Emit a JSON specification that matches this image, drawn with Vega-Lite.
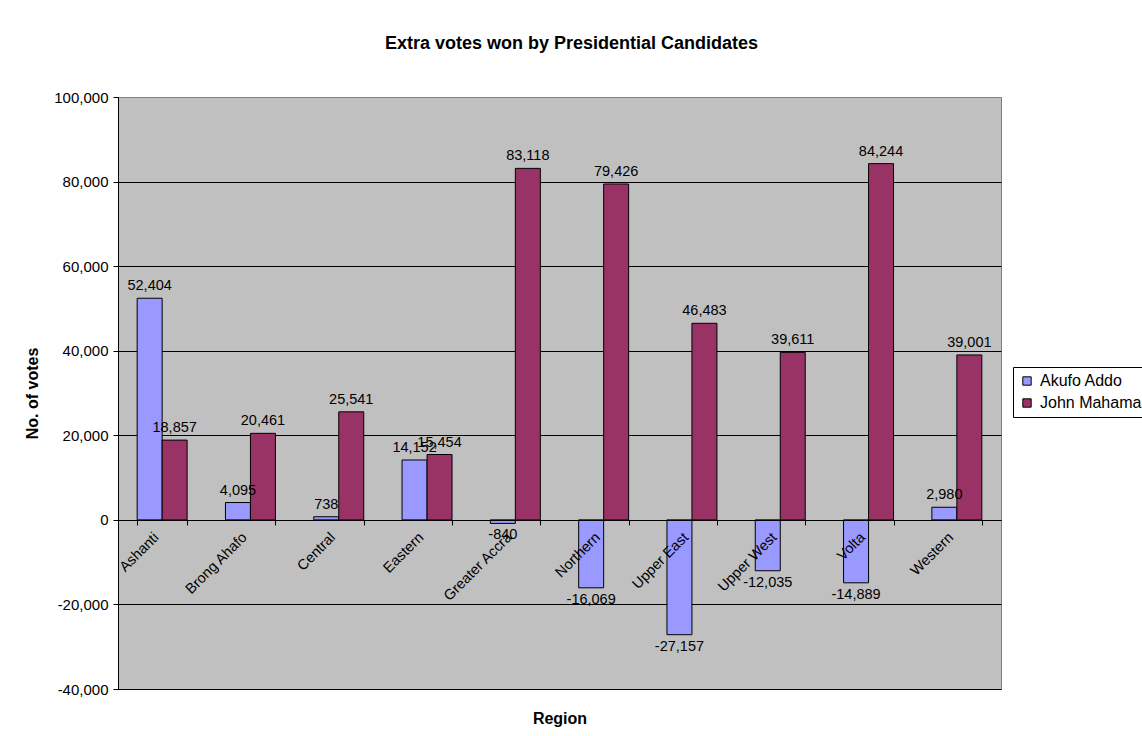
{
  "$schema": "https://vega.github.io/schema/vega-lite/v6.json",
  "autosize": "none",
  "width": 883,
  "height": 592,
  "padding": {"left": 118, "top": 97, "right": 141, "bottom": 47},
  "background": "white",
  "title": {
    "text": "Extra votes won by Presidential Candidates",
    "font": "Liberation Sans",
    "fontSize": 18,
    "fontWeight": "bold",
    "color": "black",
    "offset": 37,
    "dx": 12
  },
  "config": {
    "font": "Liberation Sans",
    "view": {"fill": "#C0C0C0", "stroke": "#808080", "strokeWidth": 1},
    "locale": {
      "number": {"decimal": ".", "thousands": ",", "grouping": [3], "currency": ["$", ""], "minus": "-"}
    }
  },
  "data": {
    "values": [
      {"Region": "Ashanti", "Candidate": "Akufo Addo", "Votes": 52404},
      {"Region": "Ashanti", "Candidate": "John Mahama", "Votes": 18857},
      {"Region": "Brong Ahafo", "Candidate": "Akufo Addo", "Votes": 4095},
      {"Region": "Brong Ahafo", "Candidate": "John Mahama", "Votes": 20461},
      {"Region": "Central", "Candidate": "Akufo Addo", "Votes": 738},
      {"Region": "Central", "Candidate": "John Mahama", "Votes": 25541},
      {"Region": "Eastern", "Candidate": "Akufo Addo", "Votes": 14152},
      {"Region": "Eastern", "Candidate": "John Mahama", "Votes": 15454},
      {"Region": "Greater Accra", "Candidate": "Akufo Addo", "Votes": -840},
      {"Region": "Greater Accra", "Candidate": "John Mahama", "Votes": 83118},
      {"Region": "Northern", "Candidate": "Akufo Addo", "Votes": -16069},
      {"Region": "Northern", "Candidate": "John Mahama", "Votes": 79426},
      {"Region": "Upper East", "Candidate": "Akufo Addo", "Votes": -27157},
      {"Region": "Upper East", "Candidate": "John Mahama", "Votes": 46483},
      {"Region": "Upper West", "Candidate": "Akufo Addo", "Votes": -12035},
      {"Region": "Upper West", "Candidate": "John Mahama", "Votes": 39611},
      {"Region": "Volta", "Candidate": "Akufo Addo", "Votes": -14889},
      {"Region": "Volta", "Candidate": "John Mahama", "Votes": 84244},
      {"Region": "Western", "Candidate": "Akufo Addo", "Votes": 2980},
      {"Region": "Western", "Candidate": "John Mahama", "Votes": 39001}
    ]
  },
  "encoding": {
    "x": {
      "field": "Region",
      "type": "nominal",
      "sort": null,
      "scale": {"paddingInner": 0.434, "paddingOuter": 0.217},
      "axis": {
        "title": "Region",
        "titleFont": "Liberation Sans",
        "titleFontSize": 16,
        "titleFontWeight": "bold",
        "titleColor": "black",
        "titleY": 203,
        "titleBaseline": "alphabetic",
        "offset": -169,
        "domainColor": "black",
        "domainWidth": 1,
        "tickColor": "black",
        "tickSize": 5,
        "tickBand": "extent",
        "labelAngle": -45,
        "labelAlign": "right",
        "labelBaseline": "middle",
        "labelPadding": 10,
        "labelOffset": -6,
        "labelFontSize": 14.5,
        "labelColor": "black",
        "labelFont": "Liberation Sans",
        "zindex": 1
      }
    },
    "xOffset": {
      "field": "Candidate",
      "type": "nominal",
      "scale": {"paddingInner": 0, "paddingOuter": 0}
    },
    "y": {
      "field": "Votes",
      "type": "quantitative",
      "scale": {"domain": [-40000, 100000], "nice": false, "zero": true},
      "axis": {
        "title": "No. of votes",
        "titleFont": "Liberation Sans",
        "titleFontSize": 16,
        "titleFontWeight": "bold",
        "titleColor": "black",
        "titlePadding": 13,
        "values": [-40000, -20000, 0, 20000, 40000, 60000, 80000, 100000],
        "format": ",d",
        "labelFontSize": 15,
        "labelColor": "black",
        "labelFont": "Liberation Sans",
        "labelPadding": 5,
        "tickSize": 5,
        "tickColor": "black",
        "domainColor": "black",
        "grid": true,
        "gridColor": {"condition": {"test": "datum.value == 100000", "value": "#808080"}, "value": "black"},
        "gridWidth": 1,
        "gridOpacity": 1
      }
    }
  },
  "layer": [
    {
      "mark": {"type": "bar", "stroke": "black", "strokeWidth": 1},
      "encoding": {
        "color": {
          "field": "Candidate",
          "type": "nominal",
          "scale": {"domain": ["Akufo Addo", "John Mahama"], "range": ["#9999FF", "#993366"]},
          "legend": {
            "title": null,
            "orient": "none",
            "legendX": 895,
            "legendY": 270,
            "strokeColor": "black",
            "fillColor": "white",
            "padding": 6,
            "labelFontSize": 16,
            "labelFont": "Liberation Sans",
            "labelColor": "black",
            "symbolType": "square",
            "symbolSize": 70,
            "symbolStrokeColor": "black",
            "symbolStrokeWidth": 1,
            "rowPadding": 6,
            "labelOffset": 5
          }
        }
      }
    },
    {
      "transform": [{"filter": "datum.Votes >= 0"}],
      "mark": {"type": "text", "baseline": "bottom", "dy": -5, "fontSize": 14.5, "color": "black", "font": "Liberation Sans"},
      "encoding": {"text": {"field": "Votes", "type": "quantitative", "format": ",d"}}
    },
    {
      "transform": [{"filter": "datum.Votes < 0"}],
      "mark": {"type": "text", "baseline": "top", "dy": 5, "fontSize": 14.5, "color": "black", "font": "Liberation Sans"},
      "encoding": {"text": {"field": "Votes", "type": "quantitative", "format": ",d"}}
    }
  ]
}
